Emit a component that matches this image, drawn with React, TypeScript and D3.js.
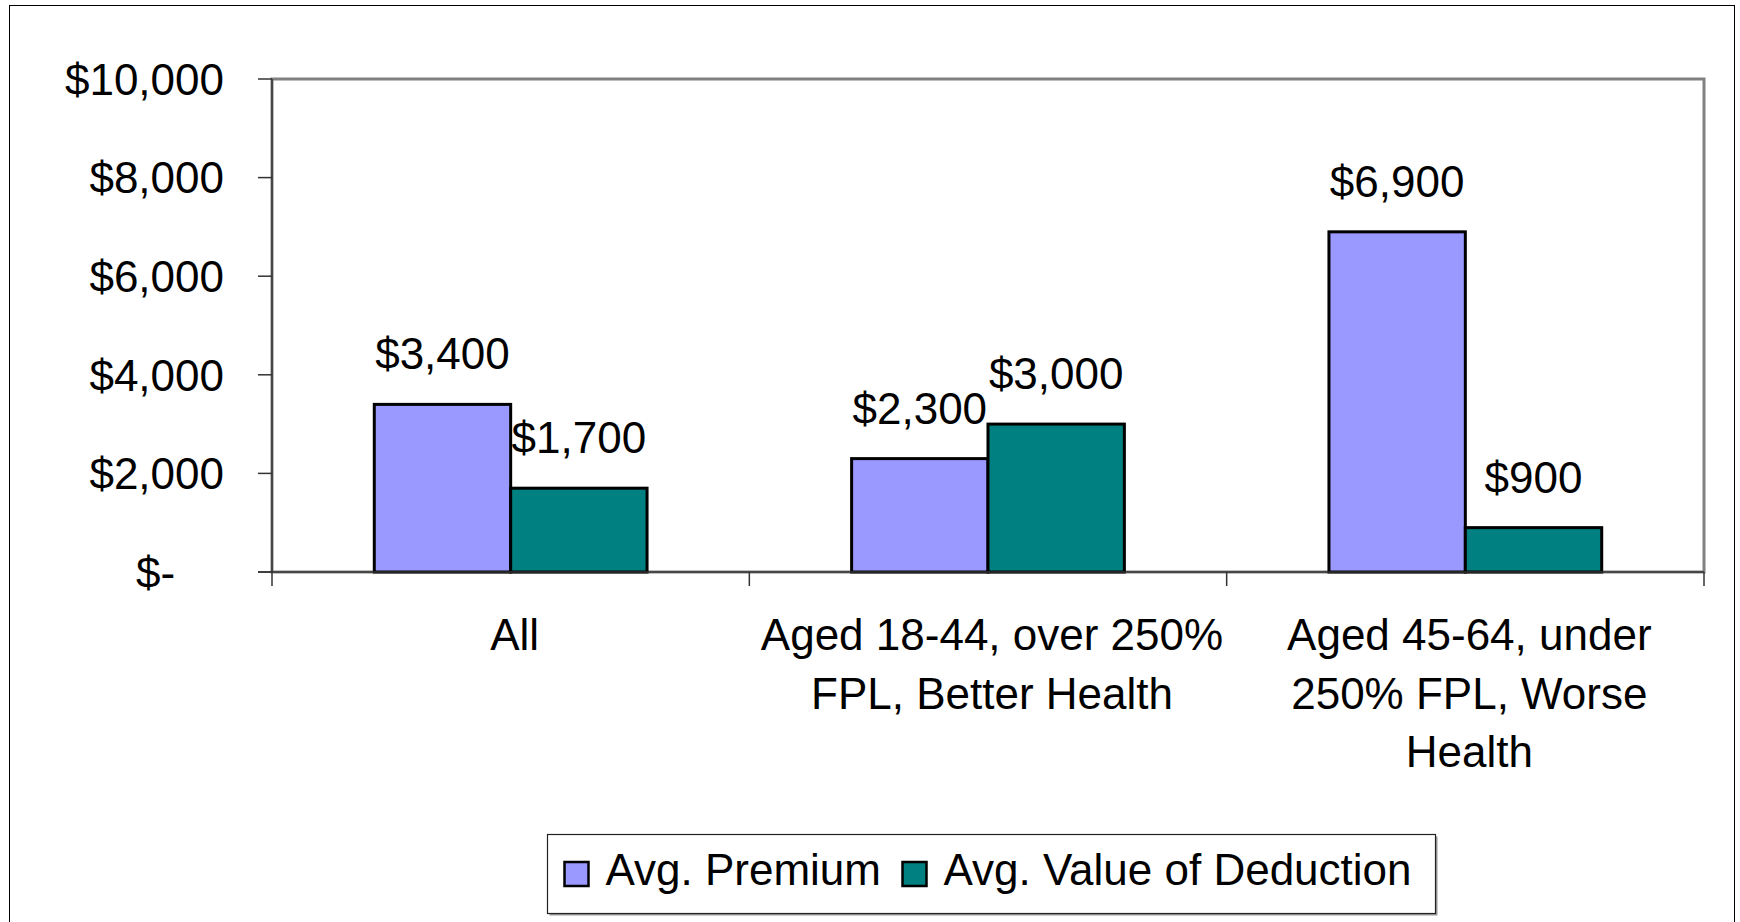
import React from "react";
import * as d3 from "d3";

const categories = ["All", "Aged 18-44, over 250% FPL, Better Health", "Aged 45-64, under 250% FPL, Worse Health"];
const categoryLines = [["All"], ["Aged 18-44, over 250%", "FPL, Better Health"], ["Aged 45-64, under", "250% FPL, Worse", "Health"]];
const seriesNames = ["Avg. Premium", "Avg. Value of Deduction"];
const premium = [3400, 2300, 6900];
const deduction = [1700, 3000, 900];
const yTicks = [0, 2000, 4000, 6000, 8000, 10000];
const colors = ["#9999FF", "#008080"];

const W = 1740, H = 922;
const FONT = "'Liberation Sans', Arial, Helvetica, sans-serif";
const FS = 44;
const plot = { left: 272, right: 1704, top: 79, bottom: 572 };

export default function App() {
  const x0 = d3.scaleBand<string>().domain(categories).range([plot.left, plot.right]).padding(0);
  const bw = x0.bandwidth();
  const gap = (bw * 1.5) / 3.5;
  const x1 = d3.scaleBand<string>().domain(seriesNames).range([gap / 2, bw - gap / 2]).padding(0);
  const y = d3.scaleLinear().domain([0, 10000]).range([plot.bottom, plot.top]);
  const series = [premium, deduction];
  const fmt = (v: number) => (v === 0 ? "$-" : "$" + d3.format(",")(v));
  const digitW = 0.556 * FS;

  const legend = { x: 547.5, y: 834.5, w: 888, h: 79 };
  const legendItemX = [legend.x + 17, legend.x + 355];

  return (
    <svg width={W} height={H} style={{ position: "absolute", left: 0, top: 0, background: "#fff" }} fontFamily={FONT}>
      <rect x={9.5} y={5.5} width={1725} height={940} fill="#fff" stroke="#000" strokeWidth={1} />
      {/* plot area border */}
      <rect x={plot.left} y={plot.top} width={plot.right - plot.left} height={plot.bottom - plot.top} fill="#fff" stroke="#808080" strokeWidth={3} />
      {/* bars */}
      {categories.map((c, i) => (
        <g key={c} transform={`translate(${x0(c)},0)`}>
          {seriesNames.map((s, j) => {
            const v = series[j][i];
            const bx = x1(s)!;
            return (
              <g key={s}>
                <rect x={bx} y={y(v)} width={x1.bandwidth()} height={y(0) - y(v)} fill={colors[j]} stroke="#000" strokeWidth={3} />
                <text x={bx + x1.bandwidth() / 2} y={y(v) - 35} textAnchor="middle" fontSize={FS} fill="#000">{fmt(v)}</text>
              </g>
            );
          })}
        </g>
      ))}
      {/* axes */}
      <line x1={plot.left} x2={plot.left} y1={plot.top} y2={plot.bottom + 14} stroke="#333" strokeWidth={1.5} />
      <line x1={plot.left - 14} x2={plot.right} y1={plot.bottom} y2={plot.bottom} stroke="#333" strokeWidth={1.5} />
      {yTicks.map((t) => (
        <g key={t}>
          <line x1={plot.left - 14} x2={plot.left} y1={y(t)} y2={y(t)} stroke="#333" strokeWidth={1.5} />
          <text x={224} dx={t === 0 ? -2 * digitW : 0} y={y(t)} dy="0.36em" textAnchor="end" fontSize={FS} fill="#000">{fmt(t)}</text>
        </g>
      ))}
      {categories.map((c) => (
        <line key={"t" + c} x1={x0(c)! + bw} x2={x0(c)! + bw} y1={plot.bottom} y2={plot.bottom + 14} stroke="#333" strokeWidth={1.5} />
      ))}
      {categories.map((c, i) => (
        <text key={"l" + c} textAnchor="middle" fontSize={FS} fill="#000">
          {categoryLines[i].map((ln, k) => (
            <tspan key={k} x={x0(c)! + bw / 2 + 4} y={650 + k * 58.5}>{ln}</tspan>
          ))}
        </text>
      ))}
      {/* legend */}
      <rect x={legend.x + 2} y={legend.y + 2} width={legend.w} height={legend.h} fill="#999" />
      <rect x={legend.x} y={legend.y} width={legend.w} height={legend.h} fill="#fff" stroke="#222" strokeWidth={1.2} />
      {seriesNames.map((s, j) => (
        <g key={s}>
          <rect x={legendItemX[j]} y={862} width={24} height={24} fill={colors[j]} stroke="#000" strokeWidth={2.5} />
          <text x={legendItemX[j] + 41} y={885} fontSize={FS} fill="#000">{s}</text>
        </g>
      ))}
    </svg>
  );
}
